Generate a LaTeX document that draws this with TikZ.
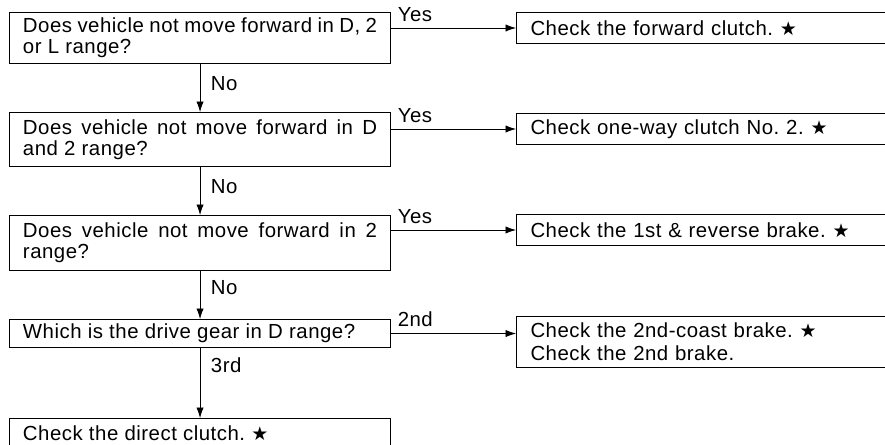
\documentclass[tikz,border=0pt]{standalone}
\usepackage{fontspec}
\setmainfont{Liberation Sans}[LetterSpace=2.5]
\newfontfamily\symfont{DejaVu Sans}
\usepackage{tikz}
\usetikzlibrary{arrows.meta,positioning}
\frenchspacing

\newcommand\starmark{{\symfont\fontsize{13.5}{13.5}\selectfont ★}}

\begin{document}
\begin{tikzpicture}[
  x=0.025cm,y=-0.025cm,
  font=\fontsize{14.5}{15}\selectfont,
  node distance=1.2cm,
  box/.style={rectangle,draw,line width=0.7pt,text width=8.85cm,inner xsep=0.3375cm,inner ysep=0pt,align=justify},
  result/.style={rectangle,draw,line width=0.7pt,text width=9.3cm,inner xsep=0.35cm,inner ysep=0pt,align=left,anchor=north west},
  arr/.style={-{Latex[length=2.6mm,width=1.8mm]},line width=0.5pt},
  lbl/.style={inner sep=4.5pt}
]
\useasboundingbox (0,0) rectangle (885,445);
\clip (0,0) rectangle (885,445);

\node[box,minimum height=1.275cm,anchor=north west] (q1) at (9,12) {Does vehicle not move forward in D, 2\linebreak or L range?};
\node[box,minimum height=1.35cm,below=of q1] (q2) {Does vehicle not move forward in D\linebreak and 2 range?};
\node[box,minimum height=1.375cm,below=of q2] (q3) {Does vehicle not move forward in 2\linebreak range?};
\node[box,minimum height=0.7cm,below=of q3] (q4) {Which is the drive gear in D range?};
\node[box,minimum height=0.75cm,below=of q4,yshift=-0.55cm,anchor=north] (c5) {Check the direct clutch. \starmark};

\node[result,minimum height=0.775cm] (c1) at (516,12) {Check the forward clutch. \starmark};
\node[result,minimum height=0.775cm] (c2) at (516,113) {Check one-way clutch No. 2. \starmark};
\node[result,minimum height=0.775cm] (c3) at (516,214) {Check the 1st \& reverse brake. \starmark};
\node[result,minimum height=1.275cm] (c4) at (516,316) {Check the 2nd-coast brake. \starmark\\[1.5pt]Check the 2nd brake.};

\draw[arr] (c1.west -| q1.east) -- node[lbl,pos=0,above right]{Yes} (c1.west);
\draw[arr] (c2.west -| q2.east) -- node[lbl,pos=0,above right]{Yes} (c2.west);
\draw[arr] (c3.west -| q3.east) -- node[lbl,pos=0,above right]{Yes} (c3.west);
\draw[arr] (q4.east) -- node[lbl,pos=0,above right]{2nd} (q4.east -| c4.west);

\draw[arr] (q1) -- node[lbl,pos=0.4,right=3pt]{No} (q2);
\draw[arr] (q2) -- node[lbl,pos=0.4,right=3pt]{No} (q3);
\draw[arr] (q3) -- node[lbl,pos=0.35,right=3pt]{No} (q4);
\draw[arr] (q4) -- node[lbl,pos=0.24,right=3pt]{3rd} (c5);
\end{tikzpicture}
\end{document}
